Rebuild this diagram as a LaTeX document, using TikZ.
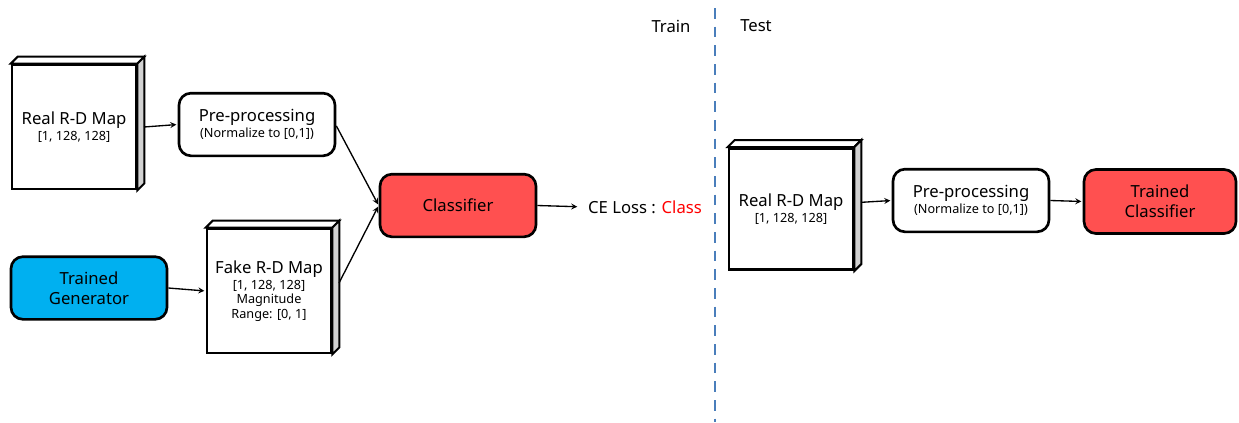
\documentclass[tikz,border=0pt]{standalone}
\usepackage{fontspec}
\setmainfont{Noto Sans}
\usepackage{tikz}
\usetikzlibrary{positioning, arrows}
\usepackage{xcolor}

\definecolor{genblue}{HTML}{00B0F0}
\definecolor{clsred}{HTML}{FF5050}
\definecolor{lossred}{HTML}{FF0000}
\definecolor{splitblue}{HTML}{4A7EBB}

\newcommand{\subtxt}[1]{{\fontsize{9.5}{11.5}\selectfont #1}}

\tikzset{
  block/.style={draw, line width=2pt, rounded corners=9pt, align=center,
    inner sep=0pt, minimum width=117pt, minimum height=47pt,
    font=\fontsize{12.5}{15}\selectfont},
  mapbox/.style={draw, line width=2pt, fill=white, align=center,
    inner sep=0pt, minimum width=93pt, minimum height=93pt,
    font=\fontsize{12.5}{15}\selectfont},
  label/.style={font=\fontsize{12.5}{15}\selectfont, inner sep=1pt},
  link/.style={->, line width=1pt, shorten >=1pt},
}

\begin{document}
\begin{tikzpicture}[x=0.75pt, y=-0.75pt, >=stealth]
  \useasboundingbox (0,0) rectangle (1239,422);

  % training side
  \node[mapbox] (real) at (74,127) {Real R-D Map\\[-3pt]\subtxt{[1, 128, 128]}};
  \node[block] (pre) at (257,124.5) {Pre-processing\\[-3pt]\subtxt{(Normalize to [0,1])}};
  \node[block, fill=genblue] (gen) at (89,288) {Trained\\Generator};
  \node[mapbox] (fake) at (269,291) {Fake R-D Map\\[-3pt]\subtxt{[1, 128, 128]}\\[-4pt]\subtxt{Magnitude}\\[-4pt]\subtxt{Range: [0, 1]}};
  \node[block, fill=clsred] (cls) at (458,205.5) {Classifier};
  \node[label] (loss) at (645,207) {CE Loss : \textcolor{lossred}{Class}};

  % train / test split
  \node[label] (train) at (671,26) {Train};
  \node[label] (test) at (756,26) {Test};
  \coordinate (splittop) at (715,8);
  \coordinate (splitbot) at (715,422);
  \draw[splitblue, line width=2pt, dash pattern=on 8pt off 6pt] (splittop) -- (splitbot);

  % test side
  \node[mapbox, minimum height=91pt] (realtest) at (791,209) {Real R-D Map\\[-3pt]\subtxt{[1, 128, 128]}};
  \node[block] (pretest) at (971,200.5) {Pre-processing\\[-3pt]\subtxt{(Normalize to [0,1])}};
  \node[block, fill=clsred, minimum width=114pt, minimum height=48pt] (tcls) at (1160,201.5) {Trained\\Classifier};

  % depth faces of the map blocks
  \foreach \m in {real,fake,realtest} {
    \draw[line width=1.5pt, fill=white] (\m.north west) -- ([shift={(7,-7)}]\m.north west)
      -- ([shift={(7,-7)}]\m.north east) -- (\m.north east) -- cycle;
    \draw[line width=1.5pt, fill=gray!35] (\m.north east) -- ([shift={(7,-7)}]\m.north east)
      -- ([shift={(7,-7)}]\m.south east) -- (\m.south east) -- cycle;
  }

  % connections
  \draw[link] ([xshift=5pt]real.east) -- (pre.west);
  \draw[link] (gen.east) -- (fake.west);
  \draw[link] ([yshift=-1pt]pre.east) -- (cls.west);
  \draw[link] ([xshift=5pt, yshift=6pt]fake.east) -- (cls.west);
  \draw[link, shorten >=7pt] (cls.east) -- (loss.west);
  \draw[link] ([xshift=5pt, yshift=5pt]realtest.east) -- (pretest.west);
  \draw[link] (pretest.east) -- (tcls.west);
\end{tikzpicture}
\end{document}
